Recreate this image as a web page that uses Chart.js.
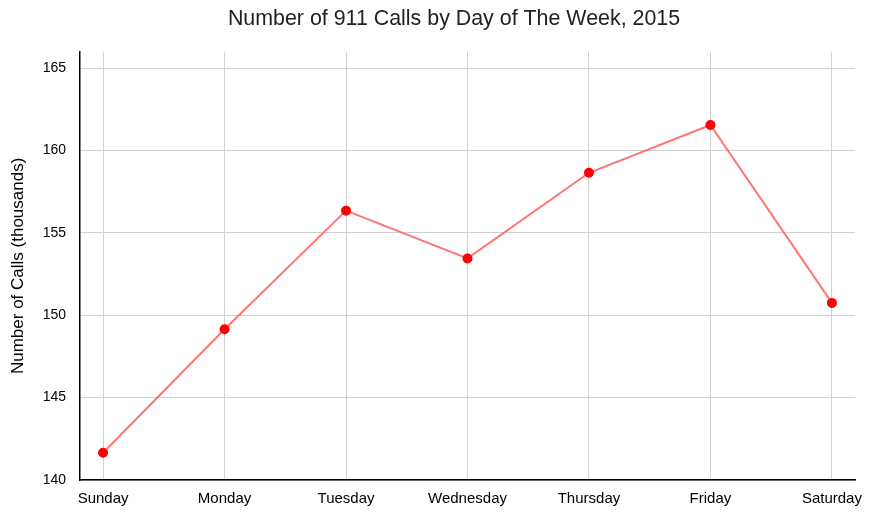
<!DOCTYPE html>
<html>
<head>
<meta charset="utf-8">
<script src="https://cdn.jsdelivr.net/npm/chart.js@4/dist/chart.umd.min.js"></script>
<style>
  body { margin: 0; background: #fff; }
  #wrap { width: 871px; height: 524px; }
</style>
</head>
<body>
<div id="wrap"><canvas id="myChart"></canvas></div>
<script>
// data
var days = ["Sunday", "Monday", "Tuesday", "Wednesday", "Thursday", "Friday", "Saturday"];
var calls = [141.65, 149.15, 156.35, 153.45, 158.65, 161.55, 150.75];
var yTicks = [140, 145, 150, 155, 160, 165];

var points = [];
for (var i in days) {
  points.push({x: Number(i), y: calls[i]});
}

// nudge the title a bit right, like the original
var titleShift = {
  id: 'titleShift',
  afterLayout: function(chart) {
    chart.titleBlock.left = 53;
  }
};

var ctx = document.getElementById('myChart').getContext('2d');
var chart = new Chart(ctx, {
  type: 'line',
  data: {
    datasets: [{
      label: 'Calls',
      data: points,
      borderColor: 'rgba(255, 110, 110, 0.95)',
      borderWidth: 2,
      pointBackgroundColor: '#ff0000',
      pointBorderColor: '#ff0000',
      pointRadius: 4,
      tension: 0
    }]
  },
  options: {
    responsive: true,
    maintainAspectRatio: false,
    animation: false,
    layout: { padding: { left: 0, right: 16, top: 0, bottom: 0 } },
    plugins: {
      legend: { display: false },
      tooltip: { enabled: false },
      title: {
        display: true,
        text: 'Number of 911 Calls by Day of The Week, 2015',
        color: '#222',
        font: { family: 'Liberation Sans, Arial, sans-serif', size: 21.4, weight: 'normal' },
        padding: { top: 6, bottom: 20 }
      }
    },
    scales: {
      x: {
        type: 'linear',
        min: -0.19,
        max: 6.19,
        afterBuildTicks: function(axis) {
          axis.ticks = days.map(function(d, k) { return {value: k}; });
        },
        ticks: {
          color: '#000',
          font: { family: 'Liberation Sans, Arial, sans-serif', size: 15 },
          padding: 10,
          maxRotation: 0,
          autoSkip: false,
          callback: function(v) { return days[v]; }
        },
        grid: { color: '#d0d0d0', lineWidth: 1, drawTicks: false },
        border: { display: true, color: '#000', width: 1.5 },
        afterFit: function(axis) {
          axis.height = 44;
          axis.paddingLeft = 0;
          axis.paddingRight = 0;
        }
      },
      y: {
        min: 140,
        max: 166,
        afterBuildTicks: function(axis) {
          axis.ticks = yTicks.map(function(v) { return {value: v}; });
        },
        ticks: {
          color: '#000',
          font: { family: 'Liberation Sans, Arial, sans-serif', size: 14 },
          padding: 14
        },
        grid: { color: '#d0d0d0', lineWidth: 1, drawTicks: false },
        border: { display: true, color: '#000', width: 1.5 },
        title: {
          display: true,
          text: 'Number of Calls (thousands)',
          color: '#000',
          font: { family: 'Liberation Sans, Arial, sans-serif', size: 17 },
          padding: { top: 8, bottom: 0 }
        },
        afterFit: function(axis) { axis.width = 80; }
      }
    }
  },
  plugins: [titleShift]
});
</script>
</body>
</html>
